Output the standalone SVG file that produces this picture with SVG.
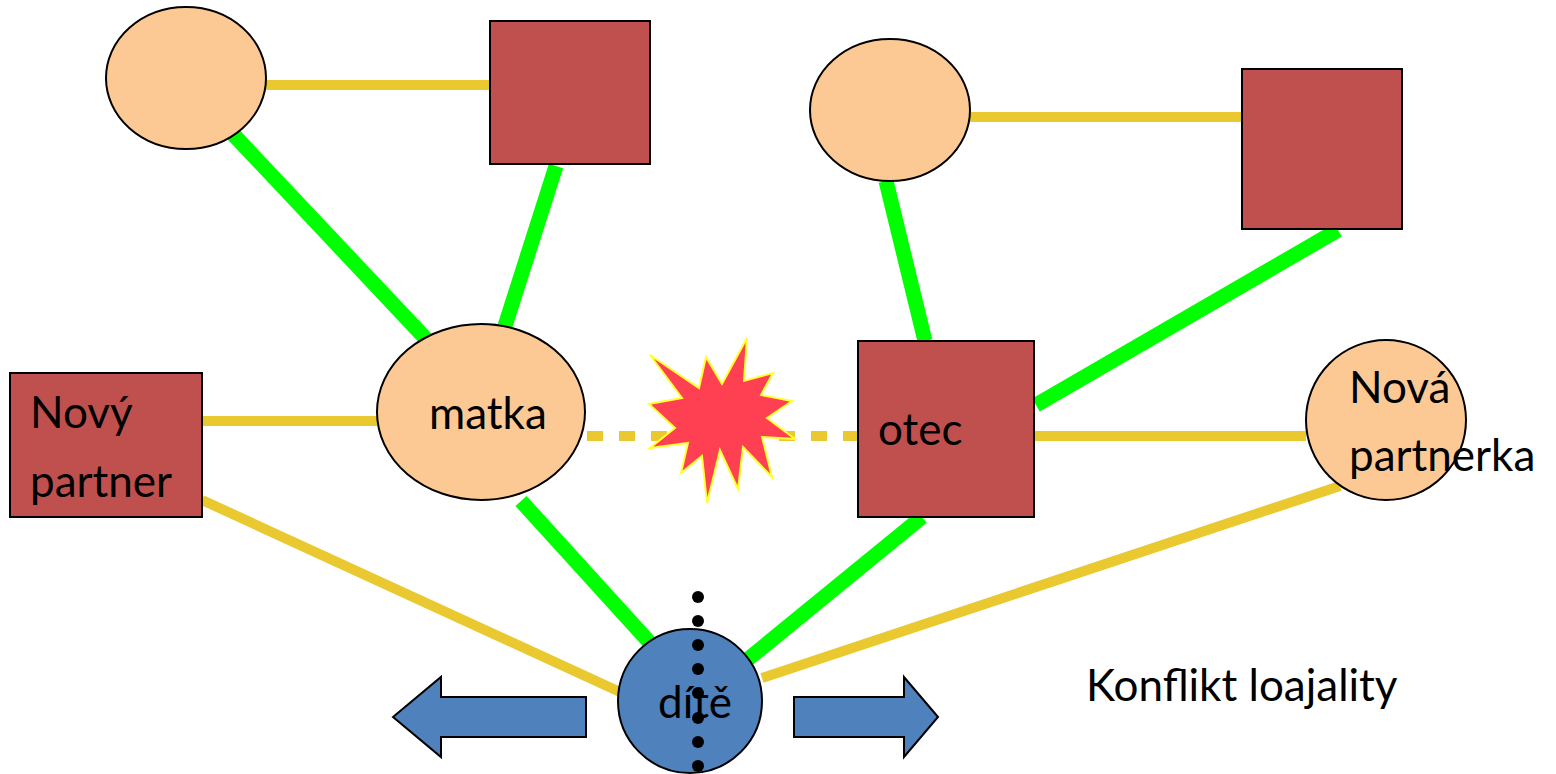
<svg xmlns="http://www.w3.org/2000/svg" width="1556" height="774" viewBox="0 0 1556 774">
<style>
.peach{fill:#FCC995;stroke:#000;stroke-width:2}
.red{fill:#C0504D;stroke:#000;stroke-width:2}
.blue{fill:#4F81BD;stroke:#000;stroke-width:2}
.y{stroke:#E9C92F;stroke-width:10;fill:none}
.g{stroke:#00FF00;stroke-width:15;fill:none}
.t{font-family:Lato,"Open Sans","Liberation Sans",sans-serif;font-size:44px;fill:#000}
</style>
<rect width="1556" height="774" fill="#fff"/>
<g id="connectors">
<line class="y" x1="266" y1="85" x2="490" y2="85"/>
<line class="y" x1="970" y1="117" x2="1242" y2="117"/>
<line class="g" x1="232" y1="133" x2="427" y2="340"/>
<line class="g" x1="556" y1="166" x2="505" y2="326"/>
<line class="g" x1="886" y1="181" x2="925" y2="341"/>
<line class="g" x1="1338" y1="230" x2="1036" y2="405"/>
<line class="y" x1="202" y1="421" x2="378" y2="421"/>
<line class="y" x1="587" y1="436" x2="858" y2="436" stroke-dasharray="16 16" stroke-width="14"/>
<line class="y" x1="1034" y1="436" x2="1306" y2="436"/>
<line class="y" x1="202" y1="500" x2="620" y2="692"/>
<line class="g" x1="521" y1="501" x2="651" y2="644"/>
<line class="g" x1="922" y1="517" x2="747" y2="660"/>
<line class="y" x1="1340" y1="486" x2="762" y2="678"/>
</g>
<g id="explosion">
<polygon points="650,355 699,388 706,357 722,384 747,338 744,381 773,373 761,395 792,401 767,418 795,439 762,437 772,477 743,447 738,489 720,450 707,503 702,456 681,473 688,443 650,448 675,428 649,404 682,398" fill="#FF3F52" stroke="#FFFF33" stroke-width="2"/>
</g>
<g id="gm1"><ellipse class="peach" cx="186" cy="78" rx="80" ry="71"/></g>
<g id="gf1"><rect class="red" x="490" y="21" width="160" height="143"/></g>
<g id="gm2"><ellipse class="peach" cx="890" cy="110" rx="80" ry="71"/></g>
<g id="gf2"><rect class="red" x="1242" y="69" width="160" height="160"/></g>
<g id="novy-partner"><rect class="red" x="10" y="373" width="192" height="144"/>
<text class="t" x="30" y="428">Nový</text><text class="t" x="30" y="497">partner</text></g>
<g id="matka"><ellipse class="peach" cx="481" cy="412" rx="104" ry="88"/>
<text class="t" x="429" y="429">matka</text></g>
<g id="otec"><rect class="red" x="858" y="341" width="176" height="176"/>
<text class="t" x="878" y="445">otec</text></g>
<g id="nova-partnerka"><ellipse class="peach" cx="1386" cy="420" rx="80" ry="80"/>
<text class="t" x="1349" y="403">Nová</text><text class="t" x="1349" y="471">partnerka</text></g>
<g id="arrow-left"><polygon class="blue" points="393,717 441,677 441,697 586,697 586,737 441,737 441,757"/></g>
<g id="arrow-right"><polygon class="blue" points="938,717 904,677 904,697 794,697 794,737 904,737 904,757"/></g>
<g id="dite"><circle class="blue" cx="690" cy="701" r="72"/>
<text class="t" x="658" y="718">dítě</text>
<g fill="#000"><circle cx="698" cy="597" r="6"/><circle cx="698" cy="621" r="6"/><circle cx="698" cy="645" r="6"/><circle cx="698" cy="669" r="6"/><circle cx="698" cy="693" r="6"/><circle cx="698" cy="718" r="6"/><circle cx="698" cy="742" r="6"/><circle cx="698" cy="766" r="6"/></g></g>
<g id="label"><text class="t" x="1086" y="701">Konflikt loajality</text></g>
</svg>
